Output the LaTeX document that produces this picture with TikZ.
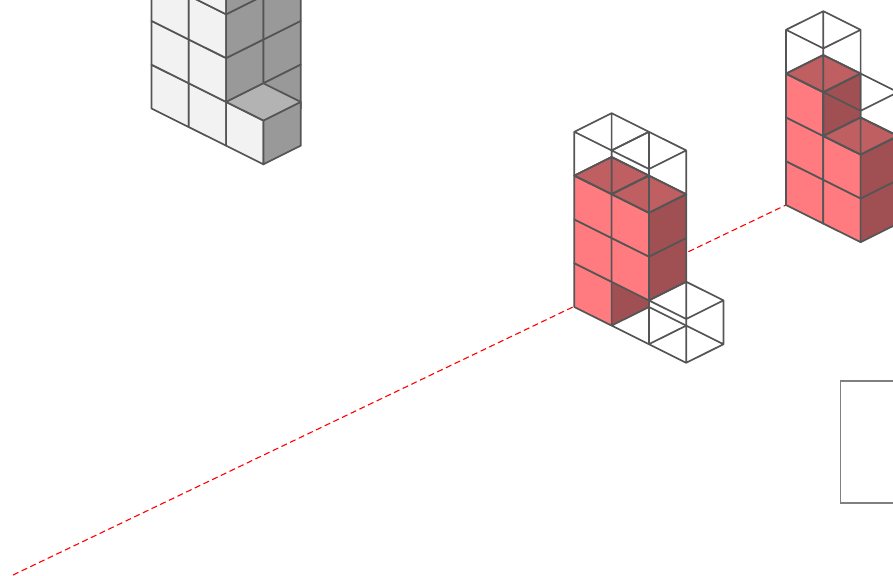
\documentclass[tikz,border=0pt]{standalone}
\usepackage{xcolor}
\definecolor{edgegray}{HTML}{555555}
\definecolor{redfront}{HTML}{ff7b80}
\definecolor{redtop}{HTML}{bf5f62}
\definecolor{redside}{HTML}{a05052}
\definecolor{grayfront}{HTML}{f2f2f2}
\definecolor{graytop}{HTML}{b3b3b3}
\definecolor{grayside}{HTML}{999999}
\tikzset{
	blockedge/.style={draw=edgegray,line width=1.7pt,line join=round},
	isoaxes/.style={x={(37.3pt,-18.6pt)},y={(37.3pt,18.6pt)},z={(0pt,43.8pt)}},
}
\newcommand{\frontface}[4]{\path[fill=#4,blockedge] (#1,#2,#3) -- ++(1,0,0) -- ++(0,0,1) -- ++(-1,0,0) -- cycle;}
\newcommand{\sideface}[4]{\path[fill=#4,blockedge] (#1,#2,#3) -- ++(0,1,0) -- ++(0,0,1) -- ++(0,-1,0) -- cycle;}
\newcommand{\topface}[4]{\path[fill=#4,blockedge] (#1,#2,#3) -- ++(1,0,0) -- ++(0,1,0) -- ++(-1,0,0) -- cycle;}
\newcommand{\wirecube}[3]{\path[blockedge] (#1,#2,#3) -- ++(1,0,0) -- ++(0,1,0) -- ++(-1,0,0) -- cycle
	(#1,#2,#3) ++(0,0,1) -- ++(1,0,0) -- ++(0,1,0) -- ++(-1,0,0) -- cycle
	(#1,#2,#3) -- ++(0,0,1) (#1,#2,#3) ++(1,0,0) -- ++(0,0,1) (#1,#2,#3) ++(1,1,0) -- ++(0,0,1) (#1,#2,#3) ++(0,1,0) -- ++(0,0,1);}

\begin{document}
\begin{tikzpicture}[x=1pt,y=-1pt]
	\useasboundingbox (0,0) rectangle (893,575);
	\clip (0,0) rectangle (893,575);
	
	\draw[red,line width=1.1pt,dash pattern=on 6pt off 3.6pt] (13,575) -- (786,205);
	\draw[gray,line width=1.1pt] (840.5,381) rectangle (900,503);
	
	% gray stack
	\begin{scope}[shift={(151.5,108.5)},isoaxes]
		\foreach \a in {0,1}{
			\foreach \c in {0,...,4}{
				\frontface{\a}{0}{\c}{grayfront}
			}
		}
		\foreach \b in {0,1}{
			\foreach \c in {1,...,4}{
				\sideface{2}{\b}{\c}{grayside}
			}
		}
		\sideface{2}{1}{0}{grayside}
		\frontface{2}{0}{0}{grayfront}
		\sideface{3}{0}{0}{grayside}
		\topface{2}{0}{1}{graytop}
	\end{scope}
	
	% middle stack
	\begin{scope}[shift={(574.3,307)},isoaxes]
		\path[fill=redside] (1,0,0) -- (1,1,0) -- (2,0,1) -- (1,0,1) -- cycle;
		\foreach \c in {0,1,2}{
			\frontface{0}{0}{\c}{redfront}
		}
		\foreach \c in {1,2}{
			\frontface{1}{0}{\c}{redfront}
			\sideface{2}{0}{\c}{redside}
		}
		\topface{0}{0}{3}{redtop}
		\topface{1}{0}{3}{redtop}
		\wirecube{2}{0}{0}
		\path[blockedge] (1,0,0) -- (1,1,0) -- (2,1,0) (1,0,0) -- (2,0,0);
		\wirecube{0}{0}{3}
		\wirecube{1}{0}{3}
	\end{scope}
	
	% right stack
	\begin{scope}[shift={(786,205)},isoaxes]
		\foreach \c in {0,1,2}{
			\frontface{0}{0}{\c}{redfront}
		}
		\foreach \c in {0,1}{
			\frontface{1}{0}{\c}{redfront}
			\sideface{2}{0}{\c}{redside}
		}
		\sideface{1}{0}{2}{redside}
		\topface{0}{0}{3}{redtop}
		\topface{1}{0}{2}{redtop}
		\wirecube{0}{0}{3}
		\wirecube{1}{0}{2}
	\end{scope}
\end{tikzpicture}
\end{document}
